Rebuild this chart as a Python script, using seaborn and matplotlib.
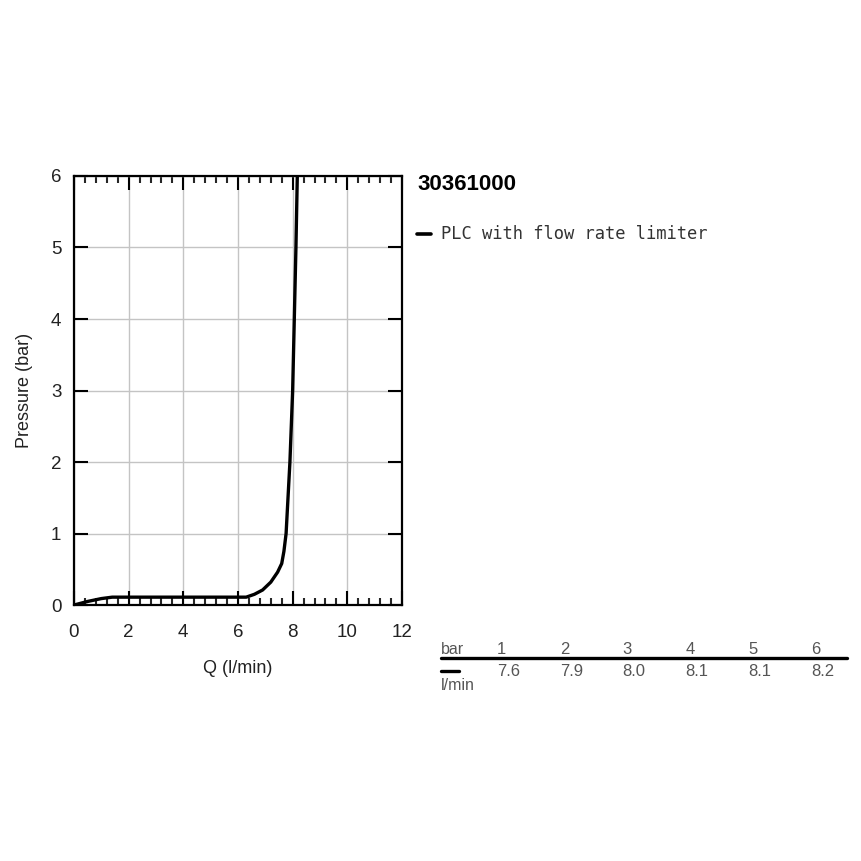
import matplotlib
matplotlib.use("Agg")
import matplotlib.pyplot as plt
from matplotlib.ticker import MultipleLocator
import numpy as np
import pandas as pd
import seaborn as sns

# curve (Q in l/min, pressure in bar)
flow = [0.0, 0.5, 1.0, 1.4, 2.0, 4.0, 6.3, 6.6, 6.9, 7.2, 7.45, 7.6,
        7.68, 7.76, 7.9, 8.0, 8.06, 8.12, 8.17]
pressure = [0.0, 0.05, 0.09, 0.11, 0.11, 0.11, 0.11, 0.15, 0.21, 0.32, 0.46, 0.58,
            0.75, 1.0, 2.0, 3.0, 4.0, 5.0, 6.0]

# table under the legend
table_bar = [1, 2, 3, 4, 5, 6]
table_flow = [7.6, 7.9, 8.0, 8.1, 8.1, 8.2]

product_code = "30361000"
series_name = "PLC with flow rate limiter"

sns.set_style("white")
plt.rcParams['font.family'] = ['Liberation Sans', 'DejaVu Sans']

fig = plt.figure(figsize=(8.61, 8.61), dpi=100)
ax = fig.add_axes([0.0859, 0.2973, 0.381, 0.4983])

df = pd.DataFrame({"Q": flow, "p": pressure})
sns.lineplot(data=df, x="Q", y="p", ax=ax, color="black", linewidth=2.4,
             sort=False, estimator=None)

ax.set_xlim(0, 12)
ax.set_ylim(0, 6)
ax.xaxis.set_major_locator(MultipleLocator(2))
ax.xaxis.set_minor_locator(MultipleLocator(0.4))
ax.yaxis.set_major_locator(MultipleLocator(1))

ax.grid(True, which="major", color="#c4c4c4", linewidth=1.0)
ax.set_axisbelow(True)
for sp in ax.spines.values():
    sp.set_color("black")
    sp.set_linewidth(1.6)

ax.tick_params(axis="x", which="major", direction="in", length=10, width=1.5,
               top=True, bottom=True, pad=14, labelsize=13.5, colors="black",
               labelcolor="#222222")
ax.tick_params(axis="x", which="minor", direction="in", length=5, width=1.5,
               top=True, bottom=True)
ax.tick_params(axis="y", which="major", direction="in", length=10, width=1.5,
               left=True, right=True, pad=9, labelsize=13.5, colors="black",
               labelcolor="#222222")

ax.set_xlabel("Q (l/min)", fontsize=13, color="#222222", labelpad=13)
ax.set_ylabel("Pressure (bar)", fontsize=13, color="#222222", labelpad=13)

# title and legend on the right
fig.text(417 / 861, 1 - 185 / 861, product_code, fontsize=16,
         fontweight="bold", va="center", ha="left", color="black",
         family=["Liberation Sans", "DejaVu Sans"])
fig.add_artist(plt.Line2D([417 / 861, 431 / 861], [1 - 234 / 861] * 2,
                          color="black", linewidth=2.6))
fig.text(441 / 861, 1 - 234 / 861, series_name, fontsize=12.3,
         va="center", ha="left", color="#333333",
         family=["DejaVu Sans Mono"])

# table
gray = "#555555"
fig.text(441 / 861, 1 - 649 / 861, "bar", fontsize=11.5, va="center",
         ha="left", color=gray)
fig.add_artist(plt.Line2D([441 / 861, 847 / 861], [1 - 657.5 / 861] * 2,
                          color="black", linewidth=2.4))
fig.add_artist(plt.Line2D([441 / 861, 459 / 861], [1 - 671 / 861] * 2,
                          color="black", linewidth=2.4))
fig.text(441 / 861, 1 - 686 / 861, "l/min", fontsize=11.5, va="center",
         ha="left", color=gray)
for i, (b, q) in enumerate(zip(table_bar, table_flow)):
    x0 = (497 + i * 62.8) / 861
    fig.text(x0, 1 - 649 / 861, str(b), fontsize=12, va="center",
             ha="left", color=gray)
    fig.text(x0, 1 - 672 / 861, f"{q:.1f}", fontsize=12,
             va="center", ha="left", color=gray)

fig.savefig("out.png", dpi=100)
